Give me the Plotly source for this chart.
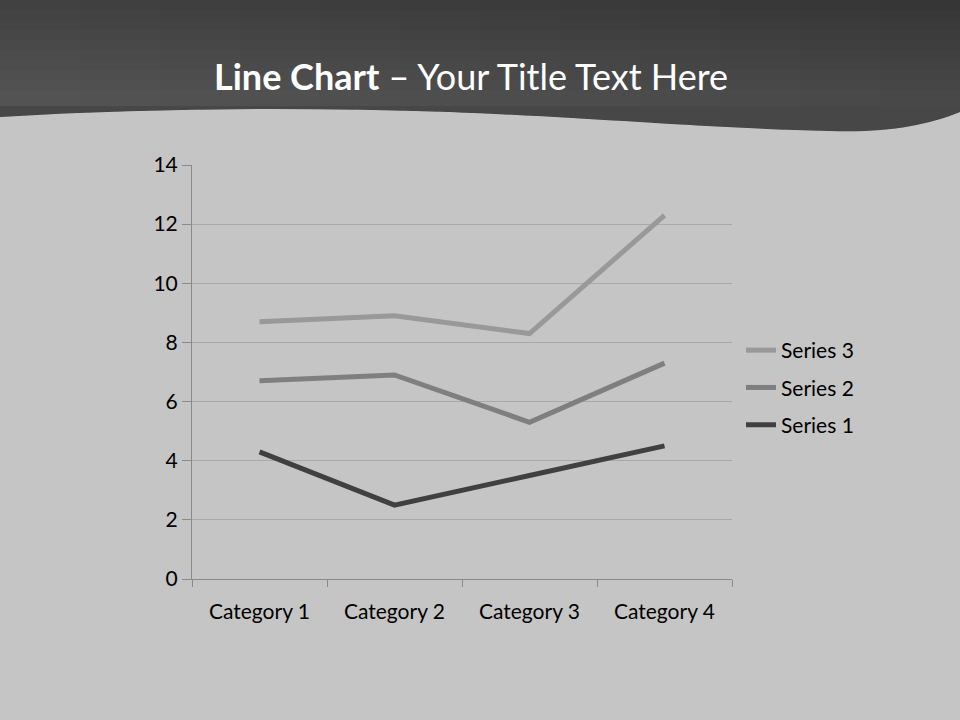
import plotly.graph_objects as go

categories = ["Category 1", "Category 2", "Category 3", "Category 4"]
series1 = [4.3, 2.5, 3.5, 4.5]
series2 = [2.4, 4.4, 1.8, 2.8]
series3 = [2.0, 2.0, 3.0, 5.0]
y_ticks = [0, 2, 4, 6, 8, 10, 12, 14]

W, H = 960, 720
L, R, T, B = 192, 732, 165, 579


def px(x, y):
    return (x - L) / (R - L), (B - y) / (B - T)


def path(points_cmds):
    out = []
    for cmd, pts in points_cmds:
        coords = " ".join("%.5f,%.5f" % px(*p) for p in pts)
        out.append(cmd + " " + coords)
    return " ".join(out) + " Z"


def header_path(top):
    return path([
        ("M", [(0, top)]),
        ("L", [(960, top)]),
        ("L", [(960, 112)]),
        ("C", [(925, 126), (885, 133), (830, 131)]),
        ("C", [(700, 128), (600, 118), (450, 112)]),
        ("C", [(300, 107), (150, 108), (0, 117)]),
    ])


shapes = [dict(type="path", path=header_path(0), xref="paper", yref="paper",
               fillcolor="#333333", line=dict(width=0), layer="below")]
for i in range(10):
    top = i * 10
    shapes.append(dict(type="path", path=header_path(top), xref="paper", yref="paper",
                       fillcolor="#ffffff", opacity=0.012, line=dict(width=0), layer="below"))
for i in range(1, 13):
    right = i * 80
    x0, y0 = px(0, 0)
    x1, y1 = px(right, 106)
    shapes.append(dict(type="rect", x0=x0, x1=x1, y0=y1, y1=y0, xref="paper", yref="paper",
                       fillcolor="#ffffff", opacity=0.008, line=dict(width=0), layer="below"))

fig = go.Figure()
colors = {"Series 1": "#404040", "Series 2": "#7f7f7f", "Series 3": "#999999"}
ranks = {"Series 1": 3, "Series 2": 2, "Series 3": 1}
for name, vals in [("Series 1", series1), ("Series 2", series2), ("Series 3", series3)]:
    fig.add_trace(go.Scatter(
        x=categories, y=vals, name=name, mode="lines",
        stackgroup="one", fill="none", legendgroup=name, legendrank=ranks[name],
        line=dict(color=colors[name], width=5),
    ))

fig.update_layout(
    width=W, height=H,
    margin=dict(l=L, r=W - R, t=T, b=H - B),
    paper_bgcolor="#c5c5c5",
    plot_bgcolor="rgba(0,0,0,0)",
    font=dict(family="Lato, 'Open Sans', sans-serif", color="#000000", size=21),
    showlegend=True,
    legend=dict(
        x=px(741, 0)[0], y=px(0, 330)[1], xanchor="left", yanchor="top",
        traceorder="grouped", bgcolor="rgba(0,0,0,0)",
        font=dict(size=21), itemwidth=30, tracegroupgap=7,
    ),
    shapes=shapes,
    annotations=[dict(
        text="<b>Line Chart</b> – Your Title Text Here",
        x=px(471, 0)[0], y=px(0, 76)[1], xref="paper", yref="paper",
        xanchor="center", yanchor="middle", showarrow=False,
        font=dict(size=36, color="#ffffff", family="Lato, sans-serif"),
    )],
)

fig.update_xaxes(
    type="category", tickson="boundaries", showgrid=False,
    showline=True, linecolor="#8a8a8a", linewidth=1,
    ticks="outside", ticklen=7, tickcolor="#8a8a8a",
    range=[-0.5, 3.5], ticklabelstandoff=14,
)
fig.update_yaxes(
    range=[0, 14], tickvals=y_ticks, showgrid=True, gridcolor="#a9a9a9", gridwidth=1,
    showline=True, linecolor="#8a8a8a", linewidth=1,
    ticks="outside", ticklen=9, tickcolor="#8a8a8a", zeroline=False,
)

fig.write_html(
    "out.html",
    config={"displayModeBar": False},
    post_script="document.body.style.margin='0';document.body.style.background='#c5c5c5';",
)
